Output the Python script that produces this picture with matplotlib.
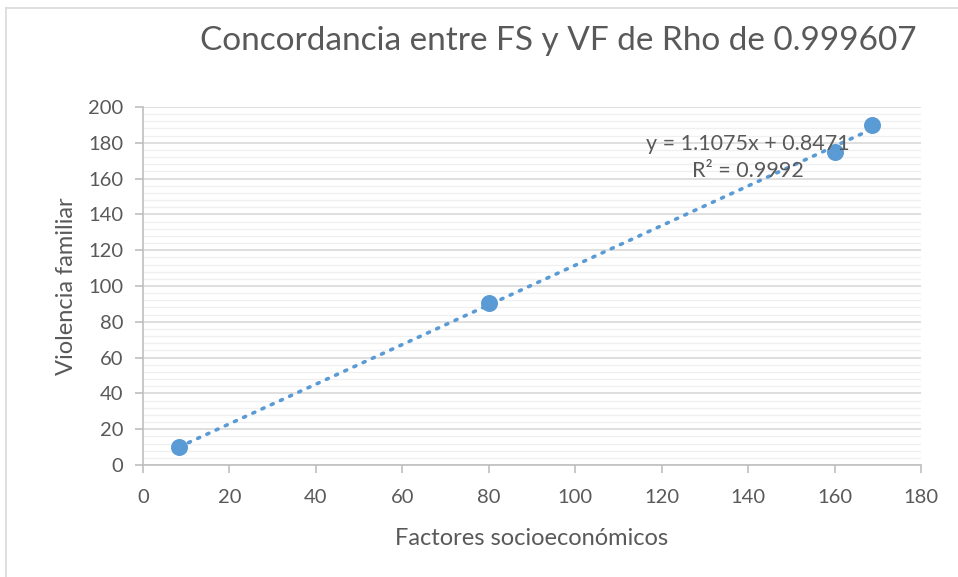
import matplotlib
matplotlib.use("Agg")
import matplotlib.pyplot as plt
from matplotlib.lines import Line2D
from matplotlib.ticker import MultipleLocator

# Datos
factores = [8.4, 80.0, 160.1, 168.7]
violencia = [10.0, 90.5, 175.0, 190.0]

# Linea de tendencia (ecuacion mostrada)
pendiente = 1.1075
intercepto = 0.8471
r2 = 0.9992

titulo = "Concordancia entre FS y VF de Rho de 0.999607"
etiqueta_x = "Factores socioeconómicos"
etiqueta_y = "Violencia familiar"

AZUL = "#5B9BD5"
GRIS_TXT = "#595959"
W, H = 958, 577

plt.rcParams['font.family'] = ['Lato', 'DejaVu Sans']

fig = plt.figure(figsize=(W / 100, H / 100), dpi=100)
ax = fig.add_axes([143/W, 1 - 465/H, 778/W, 358/H])

# Puntos
ax.scatter(factores, violencia, s=150, color=AZUL, zorder=4, linewidths=0)

# Tendencia punteada entre el minimo y maximo de x
x0, x1 = min(factores), max(factores)
ax.plot([x0, x1], [pendiente * x0 + intercepto, pendiente * x1 + intercepto],
        color=AZUL, linestyle=(0, (0.6, 2.2)), linewidth=2.6,
        dash_capstyle='round', zorder=3)

fig.text(748/W, 1 - 144/H, f"y = {pendiente}x + {intercepto}",
         fontsize=15.5, color=GRIS_TXT, ha='center', va='center', zorder=5)
fig.text(748/W, 1 - 171/H, f"R² = {r2}",
         fontsize=15.5, color=GRIS_TXT, ha='center', va='center', zorder=5)

# Ejes
ax.set_xlim(0, 180)
ax.set_ylim(0, 200)
ax.xaxis.set_major_locator(MultipleLocator(20))
ax.yaxis.set_major_locator(MultipleLocator(20))
ax.yaxis.set_minor_locator(MultipleLocator(4))
ax.grid(which='major', axis='y', color='#D9D9D9', linewidth=1.2)
ax.grid(which='minor', axis='y', color='#F0F0F0', linewidth=1.0)
ax.set_axisbelow(True)
for s in ['top', 'right']:
    ax.spines[s].set_visible(False)
for s in ['left', 'bottom']:
    ax.spines[s].set_color('#BFBFBF')
    ax.spines[s].set_linewidth(1.2)
ax.tick_params(which='major', length=6, width=1.2, color='#BFBFBF',
               labelsize=14.5, labelcolor=GRIS_TXT, pad=8)
ax.tick_params(axis='x', pad=11)
ax.tick_params(which='minor', length=0)

ax.set_xlabel(etiqueta_x, fontsize=17, color=GRIS_TXT, labelpad=16)
ax.set_ylabel(etiqueta_y, fontsize=17, color=GRIS_TXT, labelpad=8)
fig.text(558/W, 1 - 41/H, titulo, fontsize=24, color=GRIS_TXT,
         ha='center', va='center')

# Borde del area del grafico
fig.add_artist(Line2D([6/W, 6/W], [0, 1 - 8/H], color='#D9D9D9', linewidth=1.2))
fig.add_artist(Line2D([6/W, 1], [1 - 8/H, 1 - 8/H], color='#D9D9D9', linewidth=1.2))

fig.savefig("out.png", dpi=100)
